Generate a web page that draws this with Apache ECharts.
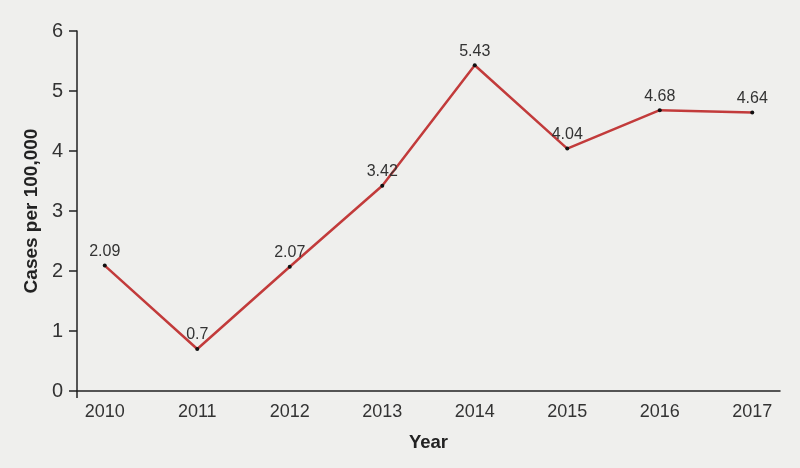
<!DOCTYPE html>
<html><head><meta charset="utf-8">
<script src="https://cdn.jsdelivr.net/npm/echarts@6/dist/echarts.min.js"></script>
<style>html,body{margin:0;padding:0;background:#efefed}#c{width:800px;height:468px}</style>
</head><body><div id="c"></div>
<script>
var years = [2010, 2011, 2012, 2013, 2014, 2015, 2016, 2017];
var cases = [2.09, 0.7, 2.07, 3.42, 5.43, 4.04, 4.68, 4.64];
var yTicks = [0, 1, 2, 3, 4, 5, 6];

var chart = echarts.init(document.getElementById('c'), null, {renderer: 'canvas'});
var font = '"Liberation Sans", "DejaVu Sans", sans-serif';
chart.setOption({
  backgroundColor: '#efefed',
  animation: false,
  grid: {left: 77, right: 20, top: 31, bottom: 77},
  xAxis: {
    type: 'value', min: 2009.7, max: 2017.3,
    name: 'Year', nameLocation: 'middle', nameGap: 42,
    nameTextStyle: {fontFamily: font, fontWeight: 'bold', fontSize: 18.5, color: '#222'},
    axisLine: {show: true, lineStyle: {color: '#222', width: 1.5}},
    axisTick: {show: true, customValues: [2009.7], length: 7, lineStyle: {color: '#222', width: 1.5}},
    axisLabel: {customValues: years, fontFamily: font, fontSize: 18, color: '#333', margin: 12,
      formatter: function (v) { return String(v); }},
    splitLine: {show: false}
  },
  yAxis: {
    type: 'value', min: 0, max: 6, interval: 1,
    name: 'Cases per 100,000', nameLocation: 'middle', nameGap: 34,
    nameTextStyle: {fontFamily: font, fontWeight: 'bold', fontSize: 19, color: '#222'},
    axisLine: {show: true, lineStyle: {color: '#222', width: 1.5}},
    axisTick: {show: true, length: 8, lineStyle: {color: '#222', width: 1.5}},
    axisLabel: {customValues: yTicks, fontFamily: font, fontSize: 20, color: '#333', margin: 14},
    splitLine: {show: false}
  },
  series: [{
    type: 'line',
    data: years.map(function (y, i) { return [y, cases[i]]; }),
    lineStyle: {color: '#c23b3b', width: 2.5},
    symbol: 'circle', symbolSize: 4,
    itemStyle: {color: '#111'},
    label: {show: true, position: 'top', distance: 4, fontFamily: font, fontSize: 16, color: '#333',
      formatter: function (p) { return String(p.value[1]); }},
    z: 3
  }]
});
</script></body></html>
